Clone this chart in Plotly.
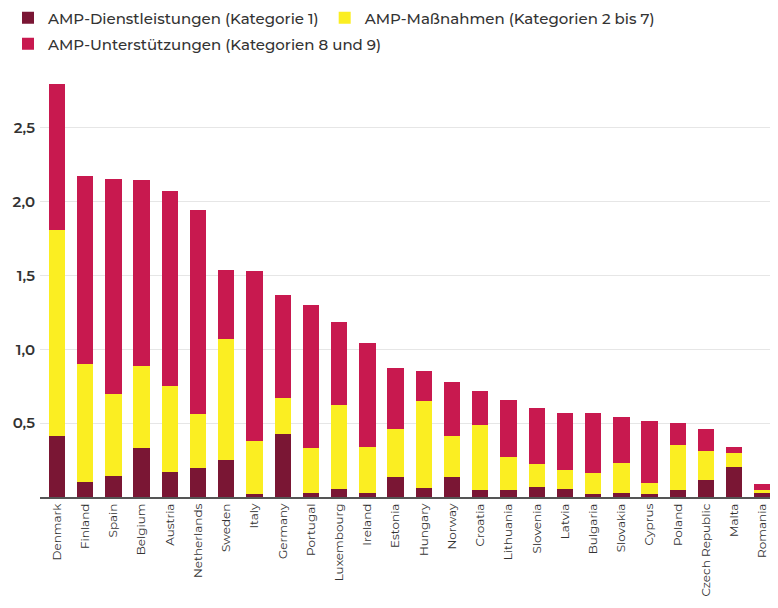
import plotly.graph_objects as go

countries = ["Denmark", "Finland", "Spain", "Belgium", "Austria", "Netherlands", "Sweden",
             "Italy", "Germany", "Portugal", "Luxembourg", "Ireland", "Estonia", "Hungary",
             "Norway", "Croatia", "Lithuania", "Slovenia", "Latvia", "Bulgaria", "Slovakia",
             "Cyprus", "Poland", "Czech Republic", "Malta", "Romania"]

# cumulative tops
dark_top   = [0.41, 0.10, 0.145, 0.33, 0.17, 0.195, 0.25, 0.02, 0.425, 0.03, 0.055, 0.025, 0.135,
              0.06, 0.135, 0.05, 0.045, 0.07, 0.055, 0.02, 0.03, 0.02, 0.05, 0.115, 0.20, 0.025]
yellow_top = [1.81, 0.90, 0.70, 0.89, 0.75, 0.56, 1.07, 0.38, 0.67, 0.33, 0.625, 0.34, 0.46,
              0.65, 0.41, 0.49, 0.27, 0.225, 0.18, 0.16, 0.23, 0.093, 0.35, 0.31, 0.30, 0.05]
total      = [2.795, 2.17, 2.15, 2.145, 2.07, 1.94, 1.54, 1.53, 1.37, 1.30, 1.185, 1.04, 0.875,
              0.855, 0.78, 0.72, 0.66, 0.60, 0.57, 0.57, 0.54, 0.515, 0.50, 0.46, 0.34, 0.085]

dienst = dark_top
massn = [round(y - d, 3) for y, d in zip(yellow_top, dark_top)]
unterst = [round(t - y, 3) for t, y in zip(total, yellow_top)]

names = ["AMP-Dienstleistungen (Kategorie 1)", "AMP-Maßnahmen (Kategorien 2 bis 7)",
         "AMP-Unterstützungen (Kategorien 8 und 9)"]
colors = ["#7a1634", "#fbee22", "#c8194f"]
series = [dienst, massn, unterst]
legends = ["legend", "legend", "legend2"]

fig = go.Figure()
for n, c, s, lg in zip(names, colors, series, legends):
    fig.add_trace(go.Bar(x=countries, y=s, name=n, legend=lg,
                         marker=dict(color=c, line=dict(width=0))))

W, H = 770, 590  # page body has an 8px margin
font = "Montserrat, 'Noto Sans', 'Open Sans', sans-serif"
leg_common = dict(orientation="h", xref="container", yref="container",
                  xanchor="left", yanchor="middle",
                  font=dict(size=15, color="#333333", weight=500),
                  itemwidth=30, traceorder="normal", bgcolor="rgba(0,0,0,0)")
fig.update_layout(
    barmode="stack",
    width=W, height=H,
    bargap=0.42,
    separators=", ",
    paper_bgcolor="white", plot_bgcolor="white",
    margin=dict(l=32, r=0, t=68, b=101, pad=0),
    font=dict(family=font, color="#333333", size=14),
    legend=dict(x=0.0, y=1 - 10 / H, **leg_common),
    legend2=dict(x=0.0, y=1 - 36 / H, **leg_common),
    xaxis=dict(range=[-0.6, 25.55], tickangle=-90, automargin=False,
               tickfont=dict(size=12, color="#333333"),
               showline=True, linecolor="#555555", linewidth=1.5, ticks="", showgrid=False),
    yaxis=dict(range=[0, 2.85], tickvals=[0.5, 1.0, 1.5, 2.0, 2.5], tickformat=".1f",
               automargin=False, ticklabelstandoff=4,
               showgrid=True, gridcolor="#e6e6e6", gridwidth=1, zeroline=False,
               tickfont=dict(size=15, color="#333333", weight=600), ticks="", showline=False),
)
fig.write_html("out.html")
